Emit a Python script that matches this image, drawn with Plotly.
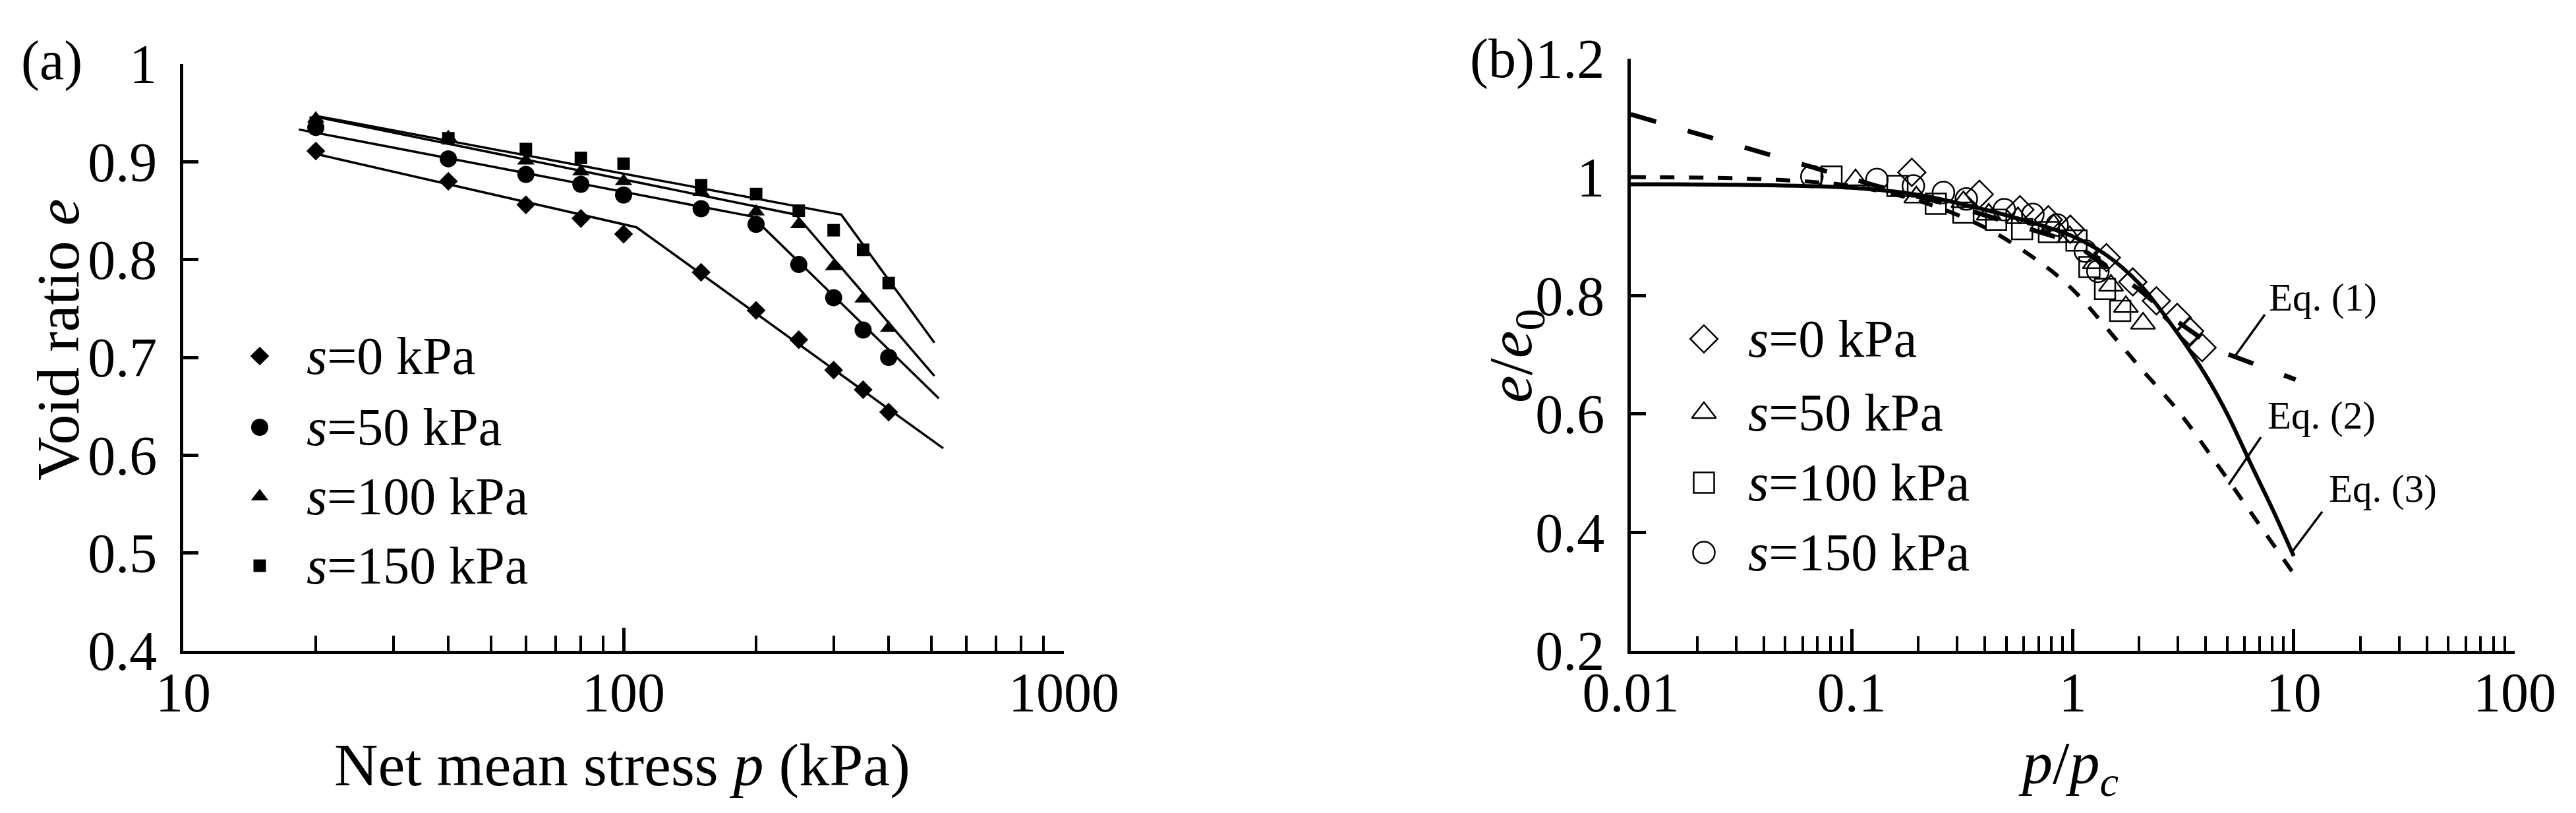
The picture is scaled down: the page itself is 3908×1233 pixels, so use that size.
import plotly.graph_objects as go

W, H = 3908, 1233
FONT = "Liberation Serif"

# ---- panel (a): void ratio vs net mean stress ----
p_kpa = [20, 40, 60, 80, 100, 150, 200, 250, 300, 350, 400]
e_s0 = [0.911, 0.880, 0.856, 0.842, 0.826, 0.787, 0.748, 0.718, 0.687, 0.667, 0.644]
e_s50 = [0.935, 0.903, 0.887, 0.877, 0.866, 0.852, 0.836, 0.795, 0.761, 0.728, 0.700]
e_s100 = [0.944, 0.925, 0.901, 0.890, 0.880, 0.869, 0.849, 0.836, 0.793, 0.760, 0.730]
e_s150 = [0.940, 0.924, 0.913, 0.904, 0.898, 0.876, 0.867, 0.850, 0.830, 0.810, 0.776]

fit_p_s0 = [20, 107, 532]
fit_e_s0 = [0.908, 0.833, 0.607]
fit_p_s50 = [18.3, 196, 520]
fit_e_s50 = [0.933, 0.844, 0.658]
fit_p_s100 = [20, 246, 508]
fit_e_s100 = [0.946, 0.846, 0.681]
fit_p_s150 = [20, 312, 508]
fit_e_s150 = [0.947, 0.846, 0.715]

# ---- panel (b): normalised curves ----
r_s0 = [0.187, 0.378, 0.577, 0.775, 0.975, 1.42, 1.87, 2.39, 2.97, 3.38, 3.85]
n_s0 = [1.008, 0.971, 0.945, 0.928, 0.912, 0.864, 0.823, 0.791, 0.763, 0.740, 0.712]
r_s50 = [0.104, 0.196, 0.32, 0.417, 0.565, 0.82, 0.97, 1.26, 1.49, 1.74, 2.08]
n_s50 = [0.995, 0.966, 0.958, 0.937, 0.931, 0.919, 0.899, 0.855, 0.817, 0.781, 0.753]
r_s100 = [0.081, 0.161, 0.24, 0.32, 0.45, 0.59, 0.78, 1.04, 1.19, 1.4, 1.64]
n_s100 = [1.001, 0.985, 0.955, 0.940, 0.928, 0.912, 0.907, 0.893, 0.848, 0.811, 0.774]
r_s150 = [0.066, 0.13, 0.19, 0.26, 0.33, 0.49, 0.66, 0.85, 1.14, 1.30]
n_s150 = [1.001, 0.996, 0.985, 0.974, 0.963, 0.945, 0.937, 0.919, 0.875, 0.841]

eq1_r = [0.01, 0.065, 0.13, 0.3, 1, 2, 3, 4.64, 10.2]
eq1_n = [1.106, 1.017, 0.985, 0.95, 0.89, 0.81, 0.755, 0.706, 0.658]
eq2_r = [0.01, 0.03, 0.06, 0.1, 0.2, 0.4, 0.7, 1, 1.5, 2, 3, 4.5, 6.5, 10]
eq2_n = [1.0, 0.998, 0.993, 0.985, 0.96, 0.915, 0.858, 0.81, 0.735, 0.68, 0.605, 0.515, 0.43, 0.33]
eq3_r = [0.01, 0.03, 0.1, 0.2, 0.4, 0.7, 1, 1.4, 2, 3, 4, 5, 6.5, 8, 10]
eq3_n = [0.988, 0.987, 0.982, 0.970, 0.945, 0.92, 0.90, 0.87, 0.82, 0.735, 0.665, 0.60, 0.51, 0.44, 0.36]

legend_labels = ["<i>s</i>=0 kPa", "<i>s</i>=50 kPa", "<i>s</i>=100 kPa", "<i>s</i>=150 kPa"]
eq_labels = ["Eq. (1)", "Eq. (2)", "Eq. (3)"]

ya_vals = [0.4, 0.5, 0.6, 0.7, 0.8, 0.9, 1.0]
ya_text = ["0.4", "0.5", "0.6", "0.7", "0.8", "0.9", "1"]
xa_vals = [10, 100, 1000]
xa_text = ["10", "100", "1000"]
yb_vals = [0.2, 0.4, 0.6, 0.8, 1.0, 1.2]
yb_text = ["0.2", "0.4", "0.6", "0.8", "1", "1.2"]
xb_vals = [0.01, 0.1, 1, 10, 100]
xb_text = ["0.01", "0.1", "1", "10", "100"]
xa_minor = [k * 10 ** d for d in (1, 2) for k in range(2, 10)]
xb_minor = [k * 10.0 ** d for d in (-2, -1, 0, 1) for k in range(2, 10)]

fig = go.Figure()

# panel (a)
filled = ["diamond", "circle", "triangle-up", "square"]
filled_size = [22, 26, 23, 19]
series_a = [e_s0, e_s50, e_s100, e_s150]
fits_a = [(fit_p_s0, fit_e_s0), (fit_p_s50, fit_e_s50),
          (fit_p_s100, fit_e_s100), (fit_p_s150, fit_e_s150)]
for fp, fe in fits_a:
    fig.add_trace(go.Scatter(x=fp, y=fe, mode="lines", xaxis="x", yaxis="y",
                             line=dict(color="black", width=3.5), showlegend=False))
for ev, sym, sz in zip(series_a, filled, filled_size):
    fig.add_trace(go.Scatter(x=p_kpa, y=ev, mode="markers", xaxis="x", yaxis="y",
                             marker=dict(symbol=sym, size=sz, color="black"),
                             showlegend=False))

# panel (b)
fig.add_trace(go.Scatter(x=eq1_r, y=eq1_n, mode="lines", xaxis="x2", yaxis="y2",
                         line=dict(color="black", width=7, dash="40px,50px"),
                         showlegend=False))
fig.add_trace(go.Scatter(x=eq2_r, y=eq2_n, mode="lines", xaxis="x2", yaxis="y2",
                         line=dict(color="black", width=6, dash="22px,22px", shape="spline"),
                         showlegend=False))
fig.add_trace(go.Scatter(x=eq3_r, y=eq3_n, mode="lines", xaxis="x2", yaxis="y2",
                         line=dict(color="black", width=6, shape="spline"),
                         showlegend=False))
hollow = ["diamond-open", "triangle-up-open", "square-open", "circle-open"]
hollow_size = [32, 32, 31, 33]
series_b = [(r_s0, n_s0), (r_s50, n_s50), (r_s100, n_s100), (r_s150, n_s150)]
for (rv, nv), sym, sz in zip(series_b, hollow, hollow_size):
    fig.add_trace(go.Scatter(x=rv, y=nv, mode="markers", xaxis="x2", yaxis="y2",
                             marker=dict(symbol=sym, size=sz, color="black",
                                         line=dict(width=2.5, color="black")),
                             showlegend=False))

# hand-made legends on a pixel overlay axis
leg_a_x, leg_a_text_x, leg_a_rows = 386, 455, [532, 640, 745, 850]
leg_b_x, leg_b_text_x, leg_b_rows = 2577, 2642, [506, 618, 724, 830]
for i in range(4):
    fig.add_trace(go.Scatter(x=[leg_a_x], y=[leg_a_rows[i]], mode="markers",
                             xaxis="x3", yaxis="y3", showlegend=False,
                             marker=dict(symbol=filled[i], size=filled_size[i], color="black")))
    fig.add_trace(go.Scatter(x=[leg_b_x], y=[leg_b_rows[i]], mode="markers",
                             xaxis="x3", yaxis="y3", showlegend=False,
                             marker=dict(symbol=hollow[i], size=hollow_size[i], color="black",
                                         line=dict(width=2.5, color="black"))))

ann = []
def txt(x, y, s, size=80, xa="center", ya="middle", angle=0):
    ann.append(dict(x=x / W, y=1 - y / H, xref="paper", yref="paper", text=s,
                    showarrow=False, xanchor=xa, yanchor=ya, textangle=angle,
                    font=dict(family=FONT, size=size, color="black")))

for i in range(4):
    txt(leg_a_text_x, leg_a_rows[i], legend_labels[i], xa="left")
    txt(leg_b_text_x, leg_b_rows[i], legend_labels[i], xa="left")

txt(22, 84, "(a)", size=84, xa="left")
txt(2322, 81, "(b)", size=84, xa="right")
txt(80, 507, "Void ratio <i>e</i>", size=92, angle=-90)
txt(2290, 532, "<i>e</i>/<i>e</i><sub>0</sub>", size=94, angle=-90)
txt(936, 1152, "Net mean stress <i>p</i> (kPa)", size=92)
txt(3130, 1155, "<i>p</i>/<i>p</i><sub><i>c</i></sub>", size=92)

eq_pos = [(3432, 443), (3430, 622), (3523, 733)]
for (ex, ey), lab in zip(eq_pos, eq_labels):
    txt(ex, ey, lab, size=59, xa="left")

leaders = [((3428, 469), (3382, 533)), ((3422, 655), (3373, 727)), ((3515, 768), (3470, 828))]
shapes = []
for (x0, y0), (x1, y1) in leaders:
    shapes.append(dict(type="line", xref="paper", yref="paper",
                       x0=x0 / W, y0=1 - y0 / H, x1=x1 / W, y1=1 - y1 / H,
                       line=dict(color="black", width=3.5)))

tickfont = dict(family=FONT, size=84, color="black")
common = dict(showline=True, linecolor="black", linewidth=5, ticks="inside",
              tickcolor="black", tickwidth=5, showgrid=False, zeroline=False,
              tickfont=tickfont, tickmode="array", automargin=False)

fig.update_layout(
    width=W, height=H, margin=dict(l=0, r=0, t=0, b=0, pad=0, autoexpand=False),
    plot_bgcolor="rgba(0,0,0,0)", paper_bgcolor="white", showlegend=False,
    xaxis=dict(type="log", range=[1, 3], domain=[270 / W, 1606 / W], anchor="y",
               tickvals=xa_vals, ticktext=xa_text, ticklen=35, ticklabelstandoff=-14,
               minor=dict(tickmode="array", tickvals=xa_minor, ticks="inside",
                          ticklen=23, tickwidth=4, tickcolor="black"),
               **common),
    yaxis=dict(range=[0.4, 1.0], domain=[1 - 979 / H, 1 - 89 / H], anchor="x",
               tickvals=ya_vals, ticktext=ya_text, ticklen=23, ticklabelstandoff=18,
               **common),
    xaxis2=dict(type="log", range=[-2, 2], domain=[2466 / W, 3807 / W], anchor="y2",
                tickvals=xb_vals, ticktext=xb_text, ticklen=33, ticklabelstandoff=-14,
                minor=dict(tickmode="array", tickvals=xb_minor, ticks="inside",
                           ticklen=22, tickwidth=4, tickcolor="black"),
                **common),
    yaxis2=dict(range=[0.2, 1.2], domain=[1 - 979 / H, 1 - 81 / H], anchor="x2",
                tickvals=yb_vals, ticktext=yb_text, ticklen=23, ticklabelstandoff=18,
                **common),
    xaxis3=dict(range=[0, W], domain=[0, 1], anchor="y3", visible=False,
                fixedrange=True, automargin=False),
    yaxis3=dict(range=[H, 0], domain=[0, 1], anchor="x3", visible=False,
                fixedrange=True, automargin=False),
    annotations=ann, shapes=shapes,
)

fig.write_html("out.html")
